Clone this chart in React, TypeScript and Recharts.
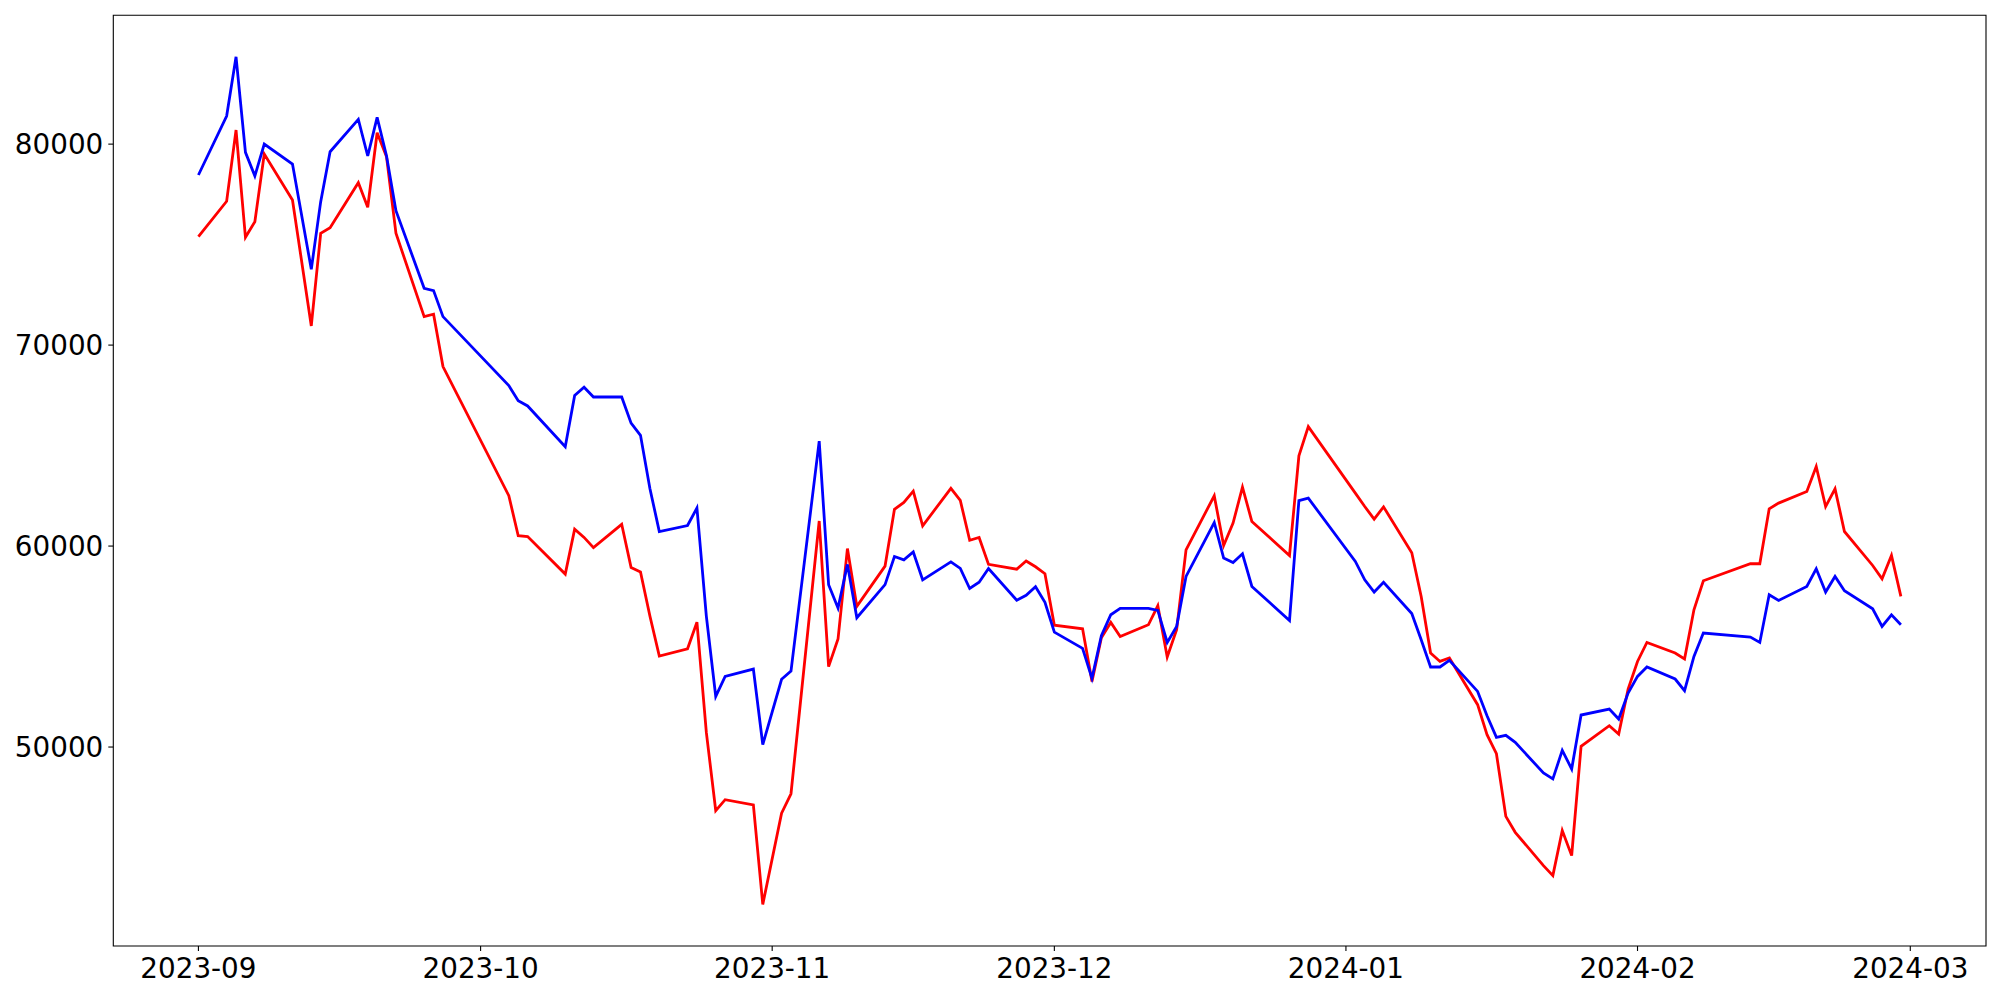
import { LineChart, Line, XAxis, YAxis, ReferenceArea } from 'recharts'

// trading days (Korean market calendar)
const dates = [
  '2023-09-01', '2023-09-04', '2023-09-05', '2023-09-06', '2023-09-07', '2023-09-08', '2023-09-11', '2023-09-13',
  '2023-09-14', '2023-09-15', '2023-09-18', '2023-09-19', '2023-09-20', '2023-09-21', '2023-09-22', '2023-09-25',
  '2023-09-26', '2023-09-27',
  '2023-10-04', '2023-10-05', '2023-10-06', '2023-10-10', '2023-10-11', '2023-10-12', '2023-10-13', '2023-10-16',
  '2023-10-17', '2023-10-18', '2023-10-19', '2023-10-20', '2023-10-23', '2023-10-24', '2023-10-25', '2023-10-26',
  '2023-10-27', '2023-10-30', '2023-10-31',
  '2023-11-02', '2023-11-03', '2023-11-06', '2023-11-07', '2023-11-08', '2023-11-09', '2023-11-10', '2023-11-13',
  '2023-11-14', '2023-11-15', '2023-11-16', '2023-11-17', '2023-11-20', '2023-11-21', '2023-11-22', '2023-11-23',
  '2023-11-24', '2023-11-27', '2023-11-28', '2023-11-29', '2023-11-30',
  '2023-12-01', '2023-12-04', '2023-12-05', '2023-12-06', '2023-12-07', '2023-12-08', '2023-12-11', '2023-12-12',
  '2023-12-13', '2023-12-14', '2023-12-15', '2023-12-18', '2023-12-19', '2023-12-20', '2023-12-21', '2023-12-22',
  '2023-12-26', '2023-12-27', '2023-12-28',
  '2024-01-02', '2024-01-03', '2024-01-04', '2024-01-05', '2024-01-08', '2024-01-09', '2024-01-10', '2024-01-11',
  '2024-01-12', '2024-01-15', '2024-01-16', '2024-01-17', '2024-01-18', '2024-01-19', '2024-01-22', '2024-01-23',
  '2024-01-24', '2024-01-25', '2024-01-26', '2024-01-29', '2024-01-30', '2024-01-31',
  '2024-02-01', '2024-02-02', '2024-02-05', '2024-02-06', '2024-02-07', '2024-02-08', '2024-02-13', '2024-02-14',
  '2024-02-15', '2024-02-16', '2024-02-19', '2024-02-20', '2024-02-21', '2024-02-22', '2024-02-23', '2024-02-26',
  '2024-02-27', '2024-02-28', '2024-02-29',
]

const blueValues = [
  78463, 81397, 84346, 79592, 78414, 80005, 79010, 73774, 77136, 79622, 81233, 79408, 81333, 79408, 76688, 72829,
  72710, 71417,
  67985, 67234, 66971, 64942, 67498, 67906, 67418, 67418, 66115, 65508, 62868, 60720, 61023, 61894, 56518, 52519,
  53514, 53877, 50123,
  53370, 53778, 65220, 58079, 56916, 59089, 56433, 58079, 59481, 59312, 59705, 58318, 59210, 58885, 57889, 58198,
  58885, 57308, 57547, 57975, 57204,
  55717, 54910, 53420, 55540, 56582, 56896, 56896, 56797, 55204, 56000, 58487, 61172, 59401, 59183, 59616, 57990,
  56298, 62266, 62385,
  59233, 58322, 57711, 58200, 56640, 55339, 53982, 53982, 54313, 52769, 51559, 50482, 50581, 50232, 48709, 48411,
  49834, 48908, 51593, 51891, 51394, 52689,
  53514, 53982, 53385, 52803, 54508, 55671, 55472, 55205, 57577, 57293, 57990, 58870, 57711, 58487, 57776, 56881,
  56000, 56582, 56085,
]

const redValues = [
  75395, 77155, 80701, 75365, 76141, 79508, 77220, 70954, 75564, 75843, 78080, 76857, 80567, 79373, 75564, 71417,
  71536, 68930,
  62505, 60516, 60476, 58606, 60839, 60431, 59924, 61083, 58929, 58710, 56517, 54528, 54891, 56213, 50729, 46835,
  47382, 47118, 42166,
  46711, 47676, 61247, 53999, 55373, 59875, 57000, 59004, 61828, 62171, 62734, 61008, 62873, 62271, 60287, 60426,
  59089, 58850, 59258, 58969, 58626,
  56060, 55880, 53266, 55440, 56200, 55504, 56085, 57030, 54479, 55836, 59814, 62501, 60028, 61142, 62933, 61222,
  59531, 64489, 65946,
  62633, 61967, 61341, 61950, 59670, 57494, 54678, 54260, 54429, 52107, 50614, 49670, 46551, 45756, 44100, 43603,
  45841, 44597, 50033, 51062, 50649, 52887,
  54260, 55205, 54678, 54379, 56831, 58273, 59119, 59119, 61853, 62137, 62714, 63957, 61967, 62848, 60725, 59034,
  58372, 59531, 57494,
]

const monthTicks = ['2023-09', '2023-10', '2023-11', '2023-12', '2024-01', '2024-02', '2024-03']
const yTicks = [50000, 60000, 70000, 80000]

const START = Date.UTC(2023, 8, 1)
const toDay = (s: string) => {
  const [y, m, d] = s.split('-').map(Number)
  return (Date.UTC(y, m - 1, d || 1) - START) / 86400000
}

const data = dates.map((d, i) => ({ day: toDay(d), blue: blueValues[i], red: redValues[i] }))
const xTicks = monthTicks.map(toDay)
const xLabel = (v: number) => monthTicks[xTicks.indexOf(v)] ?? ''

const X_DOMAIN: [number, number] = [-9.05, 190.05]
const Y_DOMAIN: [number, number] = [40100, 86410]
const tickStyle = { fill: '#000', fontSize: 27.8, fontFamily: 'DejaVu Sans' }

export default function App() {
  return (
    <div style={{ width: 1984, height: 984, fontFamily: 'DejaVu Sans' }}>
      <LineChart width={1984} height={984} data={data} margin={{ top: 7.3, right: 6, bottom: 0, left: 0 }}>
        <XAxis
          type="number"
          dataKey="day"
          domain={X_DOMAIN}
          ticks={xTicks}
          interval={0}
          tickFormatter={xLabel}
          height={46}
          tickSize={5}
          tickMargin={7}
          axisLine={false}
          tick={tickStyle}
          tickLine={{ stroke: '#000', strokeWidth: 1.1 }}
          allowDataOverflow
        />
        <YAxis
          type="number"
          domain={Y_DOMAIN}
          ticks={yTicks}
          interval={0}
          width={105.3}
          tickSize={5}
          tickMargin={5}
          axisLine={false}
          tick={tickStyle}
          tickLine={{ stroke: '#000', strokeWidth: 1.1 }}
          allowDataOverflow
        />
        <ReferenceArea
          x1={X_DOMAIN[0]}
          x2={X_DOMAIN[1]}
          y1={Y_DOMAIN[0]}
          y2={Y_DOMAIN[1]}
          fill="none"
          stroke="#000"
          strokeWidth={1.1}
        />
        <Line type="linear" dataKey="red" stroke="#ff0000" strokeWidth={2.8} dot={false} activeDot={false} isAnimationActive={false} />
        <Line type="linear" dataKey="blue" stroke="#0000ff" strokeWidth={2.8} dot={false} activeDot={false} isAnimationActive={false} />
      </LineChart>
    </div>
  )
}
